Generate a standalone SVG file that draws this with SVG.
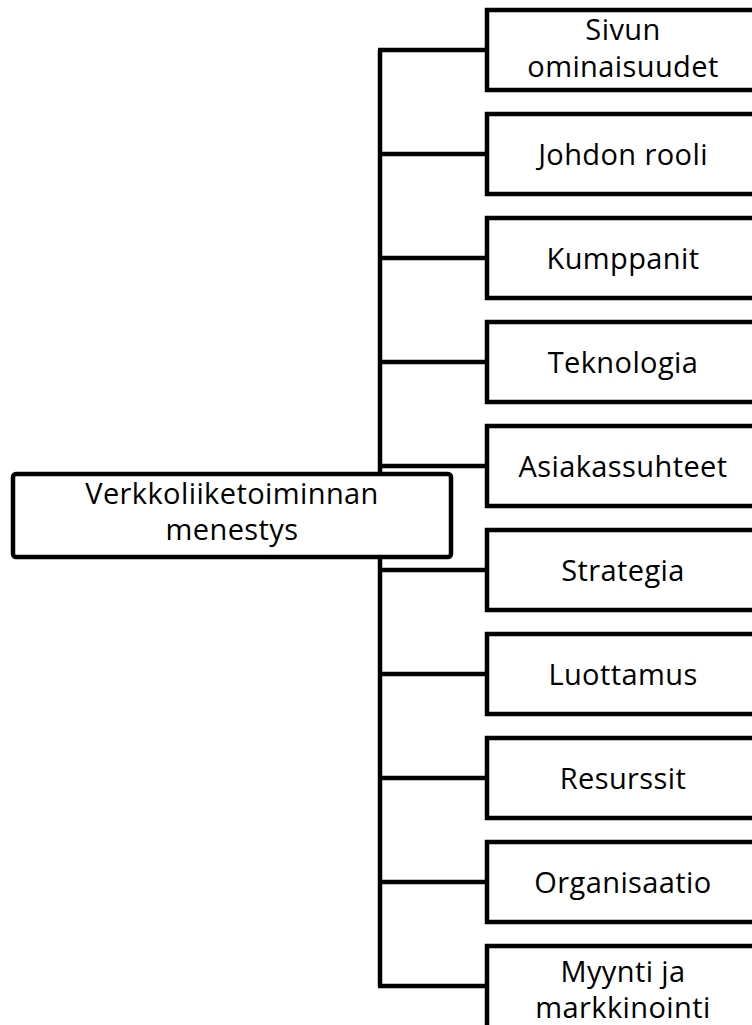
<svg xmlns="http://www.w3.org/2000/svg" width="752" height="1025" viewBox="0 0 752 1025">
<style>
.box{fill:#fff;stroke:#000;stroke-width:4.5}
.t{font-family:"Open Sans","Liberation Sans",sans-serif;font-size:29px;letter-spacing:0.4px;fill:#000;text-anchor:middle}
.c{fill:none;stroke:#000;stroke-width:4.5}
</style>
<rect width="752" height="1025" fill="#fff"/>
<g id="connectors">
<path class="c" d="M380,50 V986"/>
<path class="c" d="M378,50 H487 M380,154 H487 M380,258 H487 M380,362 H487 M380,466 H487 M380,570 H487 M380,674 H487 M380,778 H487 M380,882 H487 M378,986 H487"/>
</g>
<g id="root">
<rect class="box" x="13" y="474" width="438" height="83" rx="3"/>
<text class="t"><tspan x="232" y="504">Verkkoliiketoiminnan</tspan><tspan x="232" y="540">menestys</tspan></text>
</g>
<g id="n1"><rect class="box" x="487" y="10" width="275" height="80"/><text class="t"><tspan x="623" y="40">Sivun</tspan><tspan x="623" y="77">ominaisuudet</tspan></text></g>
<g id="n2"><rect class="box" x="487" y="114" width="275" height="80"/><text class="t" x="623" y="165">Johdon rooli</text></g>
<g id="n3"><rect class="box" x="487" y="218" width="275" height="80"/><text class="t" x="623" y="269">Kumppanit</text></g>
<g id="n4"><rect class="box" x="487" y="322" width="275" height="80"/><text class="t" x="623" y="373">Teknologia</text></g>
<g id="n5"><rect class="box" x="487" y="426" width="275" height="80"/><text class="t" x="623" y="477">Asiakassuhteet</text></g>
<g id="n6"><rect class="box" x="487" y="530" width="275" height="80"/><text class="t" x="623" y="581">Strategia</text></g>
<g id="n7"><rect class="box" x="487" y="634" width="275" height="80"/><text class="t" x="623" y="685">Luottamus</text></g>
<g id="n8"><rect class="box" x="487" y="738" width="275" height="80"/><text class="t" x="623" y="789">Resurssit</text></g>
<g id="n9"><rect class="box" x="487" y="842" width="275" height="80"/><text class="t" x="623" y="893">Organisaatio</text></g>
<g id="n10"><rect class="box" x="487" y="946" width="275" height="100"/><text class="t"><tspan x="623" y="982">Myynti ja</tspan><tspan x="623" y="1018">markkinointi</tspan></text></g>
</svg>
